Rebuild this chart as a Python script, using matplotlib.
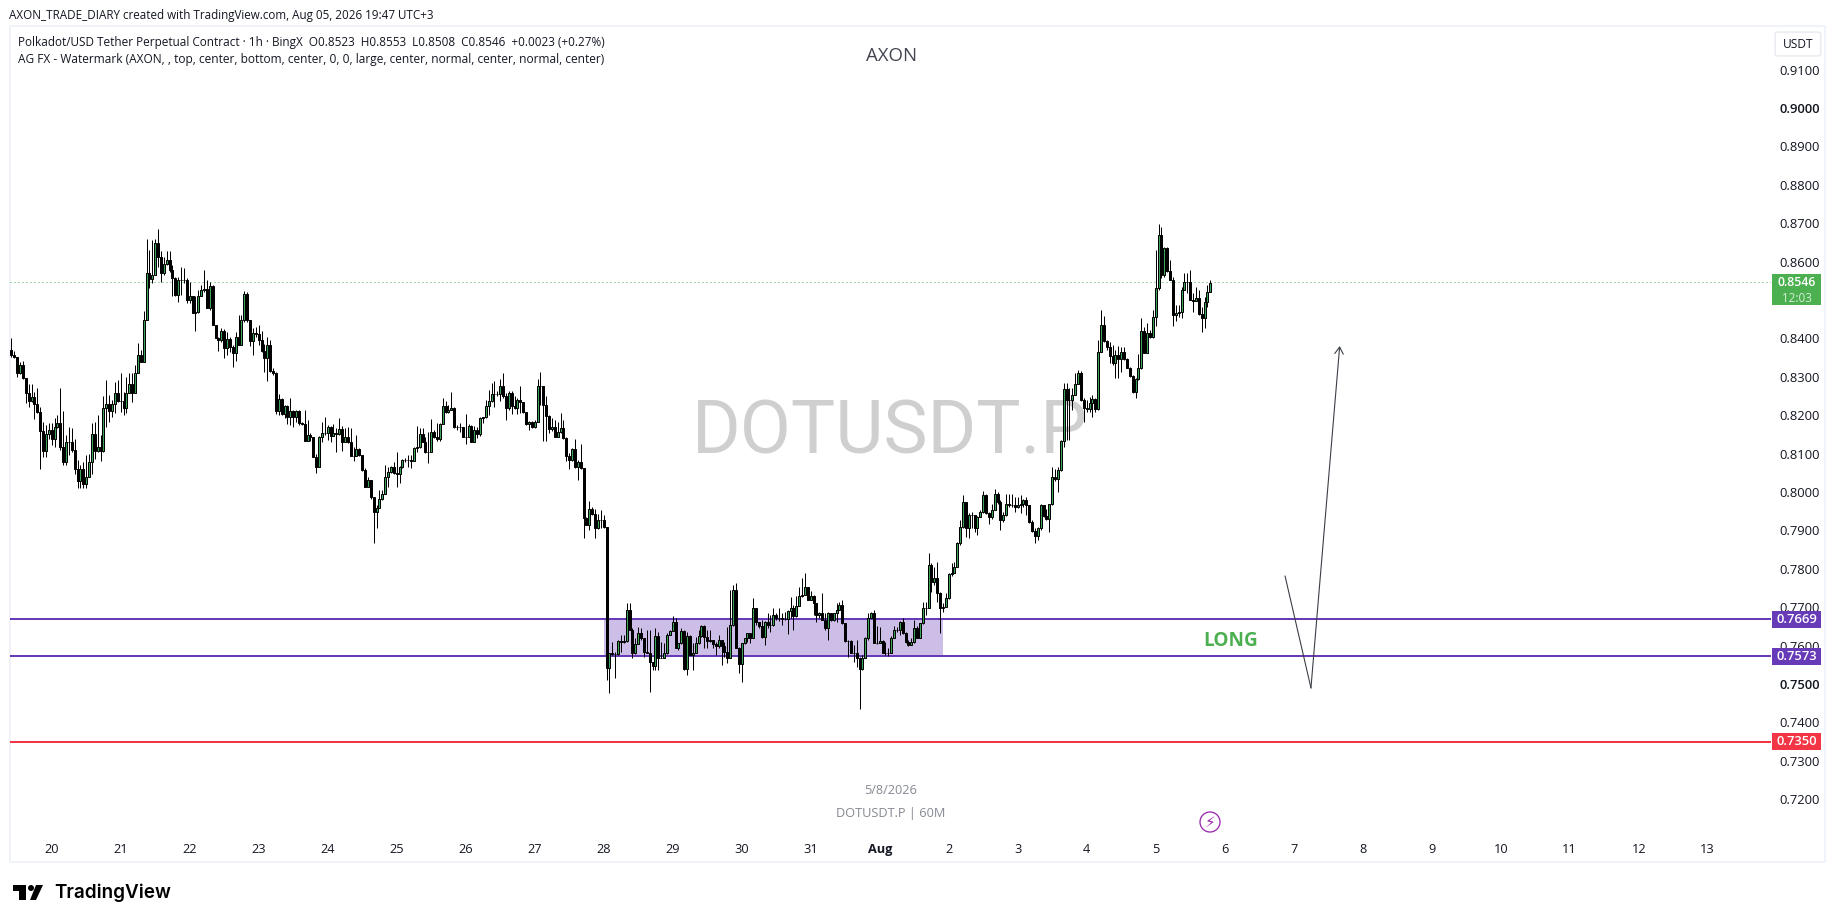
import matplotlib
matplotlib.use("Agg")
import matplotlib.pyplot as plt
from matplotlib.patches import Rectangle, Circle, Polygon, FancyBboxPatch

# --- data (prices in 1/10000 USDT) ------------------------------------------
first_open = 8370
first_hour = -14  # first bar, hours after 20 Jul 00:00
closes = [8356,8352,8309,8330,8297,8259,8238,8248,8228,8209,8159,8107,8150,8161,8139,8168,8179,8118,8079,8129,
8129,8109,8059,8029,8059,8020,8038,8079,8150,8107,8118,8107,8220,8228,8211,8228,8258,8238,8238,8219,
8259,8280,8259,8309,8358,8339,8449,8569,8554,8565,8647,8611,8569,8593,8604,8578,8556,8514,8553,8552,
8552,8499,8511,8465,8468,8511,8527,8528,8480,8536,8435,8400,8396,8420,8374,8398,8378,8361,8404,8384,
8448,8515,8448,8394,8413,8411,8396,8368,8348,8383,8316,8311,8212,8242,8202,8224,8196,8212,8196,8212,
8179,8177,8133,8149,8144,8092,8066,8142,8153,8153,8170,8147,8153,8150,8163,8131,8143,8130,8095,8095,
8111,8097,8058,8012,8030,7986,7947,7958,7981,7995,8038,8053,8065,8049,8047,8065,8084,8084,8084,8081,
8114,8118,8150,8131,8104,8105,8156,8142,8138,8177,8225,8209,8214,8220,8168,8168,8170,8144,8144,8173,
8131,8162,8150,8192,8194,8225,8236,8255,8255,8255,8276,8249,8218,8257,8225,8218,8240,8234,8208,8177,
8183,8168,8183,8277,8275,8227,8199,8164,8168,8144,8155,8166,8140,8095,8084,8111,8065,8078,8062,7933,
7914,7955,7942,7906,7927,7927,7910,7541,7582,7577,7577,7612,7610,7612,7693,7642,7580,7604,7634,7619,
7584,7581,7558,7548,7625,7569,7569,7580,7629,7638,7662,7593,7606,7639,7538,7625,7575,7581,7606,7625,
7651,7623,7613,7614,7603,7599,7614,7600,7584,7569,7653,7745,7594,7552,7606,7619,7632,7621,7697,7662,
7651,7623,7662,7655,7653,7681,7671,7671,7669,7669,7691,7699,7678,7703,7729,7732,7752,7720,7729,7710,
7681,7684,7668,7645,7684,7667,7684,7694,7705,7658,7613,7613,7582,7582,7567,7538,7568,7621,7673,7684,
7607,7607,7612,7581,7581,7581,7621,7640,7640,7662,7632,7610,7601,7610,7647,7621,7658,7699,7699,7810,
7766,7775,7738,7697,7701,7723,7786,7790,7805,7866,7908,7973,7905,7940,7940,7905,7935,7948,7992,7946,
7934,7954,7994,7974,7928,7940,7968,7966,7966,7961,7966,7968,7979,7966,7922,7898,7886,7905,7966,7937,
7931,7968,8038,8033,8057,8133,8267,8239,8239,8252,8281,8311,8239,8218,8215,8232,8241,8215,8365,8435,
8394,8378,8355,8335,8356,8345,8365,8346,8324,8303,8261,8293,8322,8419,8362,8415,8404,8456,8530,8669,
8565,8634,8576,8553,8462,8467,8468,8527,8547,8547,8501,8498,8504,8463,8454,8494,8521,8545]
highs = [8400,8367,8352,8339,8341,8297,8281,8280,8261,8270,8222,8183,8174,8179,8179,8192,8200,8270,8211,8148,
8170,8166,8139,8083,8070,8079,8096,8100,8179,8183,8200,8148,8251,8291,8252,8239,8287,8291,8309,8261,
8300,8309,8309,8330,8389,8369,8471,8660,8630,8656,8659,8685,8627,8613,8627,8627,8591,8560,8560,8586,
8582,8556,8547,8511,8511,8526,8539,8578,8552,8547,8540,8435,8404,8426,8424,8417,8404,8383,8417,8461,
8461,8524,8521,8448,8426,8430,8435,8419,8385,8404,8396,8322,8313,8254,8244,8226,8226,8244,8213,8213,
8213,8183,8214,8188,8153,8143,8098,8147,8183,8194,8175,8172,8176,8166,8192,8173,8166,8170,8166,8118,
8149,8114,8097,8062,8040,8032,7986,7966,8005,8005,8071,8066,8068,8079,8104,8068,8086,8088,8097,8097,
8118,8173,8166,8166,8144,8157,8190,8162,8179,8179,8244,8236,8227,8260,8222,8175,8179,8170,8203,8176,
8175,8173,8170,8196,8196,8240,8266,8283,8288,8262,8295,8309,8257,8262,8262,8249,8244,8275,8234,8208,
8185,8185,8188,8295,8312,8275,8249,8201,8192,8188,8183,8205,8188,8142,8101,8114,8138,8084,8124,8062,
7936,7977,7962,7956,7942,7953,7940,7910,7582,7610,7584,7614,7627,7627,7712,7712,7645,7619,7649,7647,
7619,7642,7640,7558,7645,7636,7610,7606,7632,7640,7678,7671,7606,7645,7640,7636,7627,7606,7623,7640,
7653,7653,7640,7640,7616,7610,7627,7614,7610,7649,7746,7758,7764,7597,7606,7621,7634,7632,7723,7697,
7662,7666,7665,7684,7680,7699,7684,7699,7684,7688,7693,7726,7706,7729,7752,7775,7788,7753,7743,7732,
7710,7688,7738,7684,7688,7684,7686,7710,7714,7719,7660,7616,7614,7601,7614,7571,7575,7623,7684,7688,
7694,7651,7649,7614,7610,7593,7625,7651,7649,7665,7671,7636,7614,7619,7666,7651,7660,7714,7714,7840,
7814,7805,7818,7740,7710,7738,7788,7816,7818,7870,7927,7992,7973,7946,7948,7940,7937,7953,8003,7994,
7948,7970,8007,8001,7979,7948,7996,7996,7996,7988,7988,7992,7983,7988,7966,7927,7905,7909,7968,7966,
7957,7970,8066,8061,8066,8135,8285,8285,8270,8270,8309,8317,8316,8244,8239,8248,8252,8244,8395,8474,
8458,8395,8391,8382,8369,8380,8378,8378,8348,8326,8304,8296,8359,8454,8430,8439,8422,8475,8630,8698,
8691,8639,8637,8604,8560,8487,8487,8533,8569,8569,8579,8517,8533,8526,8482,8507,8539,8553]
lows = [8352,8348,8300,8306,8294,8231,8222,8235,8190,8205,8061,8092,8092,8139,8122,8118,8167,8109,8070,8070,
8096,8105,8048,8011,8011,8011,8011,8048,8048,8087,8105,8080,8105,8170,8183,8196,8207,8235,8209,8200,
8207,8257,8235,8257,8309,8339,8339,8449,8530,8543,8565,8586,8547,8565,8591,8573,8511,8511,8495,8513,
8543,8491,8491,8465,8420,8465,8511,8521,8478,8474,8435,8400,8367,8391,8350,8356,8365,8326,8341,8384,
8383,8443,8443,8381,8356,8404,8383,8365,8313,8289,8313,8304,8202,8200,8200,8192,8177,8174,8168,8183,
8174,8174,8133,8136,8133,8092,8049,8064,8131,8149,8136,8130,8147,8105,8149,8107,8130,8127,8095,8081,
8095,8095,8055,8012,8012,7982,7868,7906,7958,7979,7994,8012,8049,8046,8012,8023,8062,8078,8066,8062,
8081,8105,8114,8130,8101,8075,8104,8140,8133,8133,8177,8207,8205,8214,8166,8162,8157,8142,8124,8157,
8130,8130,8140,8147,8179,8192,8201,8234,8222,8251,8236,8244,8188,8214,8203,8216,8203,8205,8205,8175,
8162,8166,8166,8183,8227,8134,8134,8153,8159,8142,8144,8153,8138,8081,8060,8081,8062,8032,8060,7880,
7913,7901,7940,7880,7904,7906,7906,7510,7477,7575,7516,7575,7584,7606,7610,7640,7567,7578,7604,7616,
7571,7580,7480,7536,7536,7536,7567,7567,7578,7627,7638,7593,7588,7604,7536,7523,7575,7536,7580,7604,
7623,7593,7593,7610,7593,7575,7593,7549,7571,7554,7568,7651,7593,7529,7506,7604,7610,7607,7623,7653,
7647,7621,7601,7645,7636,7651,7668,7665,7653,7667,7630,7671,7640,7675,7703,7727,7732,7719,7719,7680,
7662,7671,7667,7640,7616,7665,7665,7662,7693,7656,7610,7571,7581,7558,7545,7434,7536,7567,7614,7675,
7606,7604,7606,7580,7575,7573,7581,7619,7636,7627,7630,7607,7599,7606,7606,7620,7620,7656,7680,7697,
7740,7758,7714,7632,7688,7701,7721,7781,7790,7805,7862,7905,7883,7881,7905,7896,7888,7935,7946,7942,
7916,7931,7953,7970,7901,7922,7937,7961,7960,7948,7959,7946,7961,7940,7920,7896,7866,7875,7902,7934,
7927,7896,7966,8029,8001,8055,8116,8135,8135,8213,8252,8281,8238,8183,8209,8209,8196,8209,8213,8365,
8391,8369,8335,8330,8296,8296,8313,8343,8322,8300,8258,8246,8291,8319,8361,8361,8400,8402,8432,8526,
8556,8560,8573,8552,8432,8446,8456,8452,8526,8517,8500,8469,8500,8461,8417,8428,8481,8521]

price_levels = [0.7669, 0.7573, 0.7350]
price_level_labels = ["0.7669", "0.7573", "0.7350"]
last_price = 0.8546
path_hours = [429, 438, 448]
path_prices = [0.7781, 0.7490, 0.8380]
zone_hours = [192, 310]
zone_prices = [0.7573, 0.7669]
day_hours = [24 * d for d in range(25)]
day_labels = ["20","21","22","23","24","25","26","27","28","29","30","31","Aug",
              "2","3","4","5","6","7","8","9","10","11","12","13"]
price_ticks = [0.72 + 0.01 * k for k in range(20)]
price_tick_labels = [f"{p:.4f}" for p in price_ticks]

# --- figure -----------------------------------------------------------------
W, H = 1835, 923
FONT = ["Open Sans", "DejaVu Sans"]
plt.rcParams["font.family"] = FONT
INK = "#131722"
UP = "#3aa655"
PURPLE = "#673ab7"
RED = "#f23645"
GREEN = "#4caf50"
LINE = "#3a3d45"
PX = 0.72

fig = plt.figure(figsize=(W / 100, H / 100), dpi=100, facecolor="white")
L, R, T, B = 10, 1771, 26, 835
ax = fig.add_axes([L / W, 1 - B / H, (R - L) / W, (B - T) / H])
ax.patch.set_alpha(0)
for s in ax.spines.values():
    s.set_visible(False)
px_per_hour = 2.875
px_per_price = 3841
ax.set_xlim((L - 51.7) / px_per_hour, (R - 51.7) / px_per_hour)
ax.set_ylim(0.91 - (B - 69.5) / px_per_price, 0.91 - (T - 69.5) / px_per_price)

def fx(px):
    return px / W

def fy(py):
    return 1 - py / H

def label(px, py, s, size, color=INK, ha="left", weight="normal", z=10, family=None):
    return ax.text(fx(px), fy(py), s, transform=fig.transFigure, fontsize=size, color=color, ha=ha,
                   va="center", fontweight=weight, zorder=z, clip_on=False, family=family or FONT)

# frame of the chart pane
fig.add_artist(Rectangle((fx(9.5), fy(862)), (1825 - 9.5) / W, (862 - 26) / H, transform=fig.transFigure,
                         fill=False, edgecolor="#f0f3fa", lw=2 * PX, zorder=0))

# ticks
ax.yaxis.tick_right()
ax.set_yticks(price_ticks)
ax.set_yticklabels(price_tick_labels)
ax.tick_params(axis="y", length=0, pad=6.2, labelsize=9.4, labelcolor=INK)
ax.set_xticks(day_hours)
ax.set_xticklabels(day_labels)
ax.tick_params(axis="x", length=0, pad=5.9, labelsize=9.2, labelcolor=INK)
for t, s in zip(ax.get_yticklabels(), price_tick_labels):
    if s in ("0.9000", "0.7500"):
        t.set_fontweight("semibold")
for t, s in zip(ax.get_xticklabels(), day_labels):
    if s == "Aug":
        t.set_fontweight("bold")

# watermark and notes beneath the candles
label(890, 433, "DOTUSDT.P", 53.5, color="#cfcfcf", ha="center", z=0.1, family=["Roboto", "Open Sans"])
label(891, 56, "AXON", 13.4, color="#434651", ha="center")
label(891, 790, "5/8/2026", 9.2, color="#868993", ha="center")
label(891, 813, "DOTUSDT.P | 60M", 9.2, color="#868993", ha="center")

# levels and zone
for p, c in zip(price_levels, [PURPLE, PURPLE, RED]):
    ax.axhline(p, color=c, lw=2 * PX, zorder=1)
ax.axhline(last_price, color=GREEN, lw=1 * PX, ls=(0, (1, 3)), zorder=1)
ax.add_patch(Rectangle((zone_hours[0], zone_prices[0]), zone_hours[1] - zone_hours[0],
                       zone_prices[1] - zone_prices[0], facecolor=PURPLE, alpha=0.33, lw=0, zorder=1.5))

# candles
hours = [first_hour + i for i in range(len(closes))]
cl = [c / 1e4 for c in closes]
op = [first_open / 1e4] + cl[:-1]
hi = [max(h / 1e4, o, c) for h, o, c in zip(highs, op, cl)]
lo = [min(v / 1e4, o, c) for v, o, c in zip(lows, op, cl)]
ax.vlines(hours, lo, hi, color="black", lw=1 * PX, zorder=2)
ax.bar(hours, [c - o for c, o in zip(cl, op)], bottom=op, width=0.72,
       color=[UP if c >= o else "black" for c, o in zip(cl, op)], edgecolor="black", lw=1 * PX, zorder=2.2)

# drawn path
ax.plot(path_hours[:2], path_prices[:2], color=LINE, lw=1.1 * PX, zorder=3)
ax.annotate("", xy=(path_hours[2], path_prices[2]), xytext=(path_hours[1], path_prices[1]),
            arrowprops=dict(arrowstyle="->,head_length=0.35,head_width=0.22", color=LINE,
                            lw=1.1 * PX, shrinkA=0, shrinkB=0, mutation_scale=14), zorder=3)
label(1231, 641, "LONG", 13.6, color=GREEN, ha="center", weight="bold")

# price axis tags
ytf = ax.get_yaxis_transform()
def ax_x(px):
    return (px - L) / (R - L)

for p, s, c in zip(price_levels, price_level_labels, [PURPLE, PURPLE, RED]):
    hh = 17 / px_per_price
    ax.add_patch(Rectangle((ax_x(1772), p - hh / 2), 49 / (R - L), hh, transform=ytf, facecolor=c, lw=0,
                           clip_on=False, zorder=6))
    ax.text(ax_x(1796.5), p, s, transform=ytf, color="white", ha="center", va="center", fontsize=9.4,
            fontweight="semibold", zorder=7, clip_on=False)
ax.add_patch(Rectangle((ax_x(1772), last_price + 8 / px_per_price), 49 / (R - L), -31 / px_per_price,
                       transform=ytf, facecolor=GREEN, lw=0, clip_on=False, zorder=6))
label(1796.5, 282.5, f"{last_price:.4f}", 8.8, color="white", ha="center", weight="semibold", z=7)
label(1796.5, 298.8, "12:03", 8.4, color="#d6efd8", ha="center", z=7)

# USDT button
ax.add_patch(FancyBboxPatch((fx(1777), fy(55)), 42 / W, 22 / H, boxstyle="round,pad=0.001,rounding_size=0.002",
                            transform=fig.transFigure, facecolor="white", edgecolor="#e8eaf0", lw=1.4 * PX,
                            clip_on=False, zorder=6))
label(1798, 45, "USDT", 8.6, ha="center", z=7)

# header
label(9, 15, "AXON_TRADE_DIARY created with TradingView.com, Aug 05, 2026 19:47 UTC+3", 8.4, color="#131722")
label(18, 42.5, "Polkadot/USD Tether Perpetual Contract \u00b7 1h \u00b7 BingX  O0.8523  H0.8553  L0.8508  C0.8546  +0.0023 (+0.27%)",
      8.43, color="#131722")
label(18, 59, "AG FX - Watermark (AXON, , top, center, bottom, center, 0, 0, large, center, normal, center, normal, center)",
      8.6, color="#131722")

# lightning badge
fig.add_artist(Circle((1210, H - 822), 10, transform=None, fill=False, edgecolor="#9c27b0", lw=1.3 * PX, zorder=8))
label(1210, 822, "\u26a1", 11, color="#9c27b0", ha="center", z=9, family=["DejaVu Sans"])

# TradingView logo
black = "#000000"
def poly(points):
    fig.add_artist(Polygon([(x, H - y) for x, y in points], closed=True, transform=None, facecolor=black, lw=0))
poly([(13, 885), (26, 885), (26, 900), (19, 900), (19, 891), (13, 891)])
fig.add_artist(Circle((31, H - 888), 3, transform=None, facecolor=black, lw=0))
poly([(36, 885), (43, 885), (36, 900), (30, 900)])
label(54, 893, "TradingView", 13.6, color=black, weight="semibold", family=["Inter", "Open Sans"])

fig.savefig("out.png", dpi=100)
